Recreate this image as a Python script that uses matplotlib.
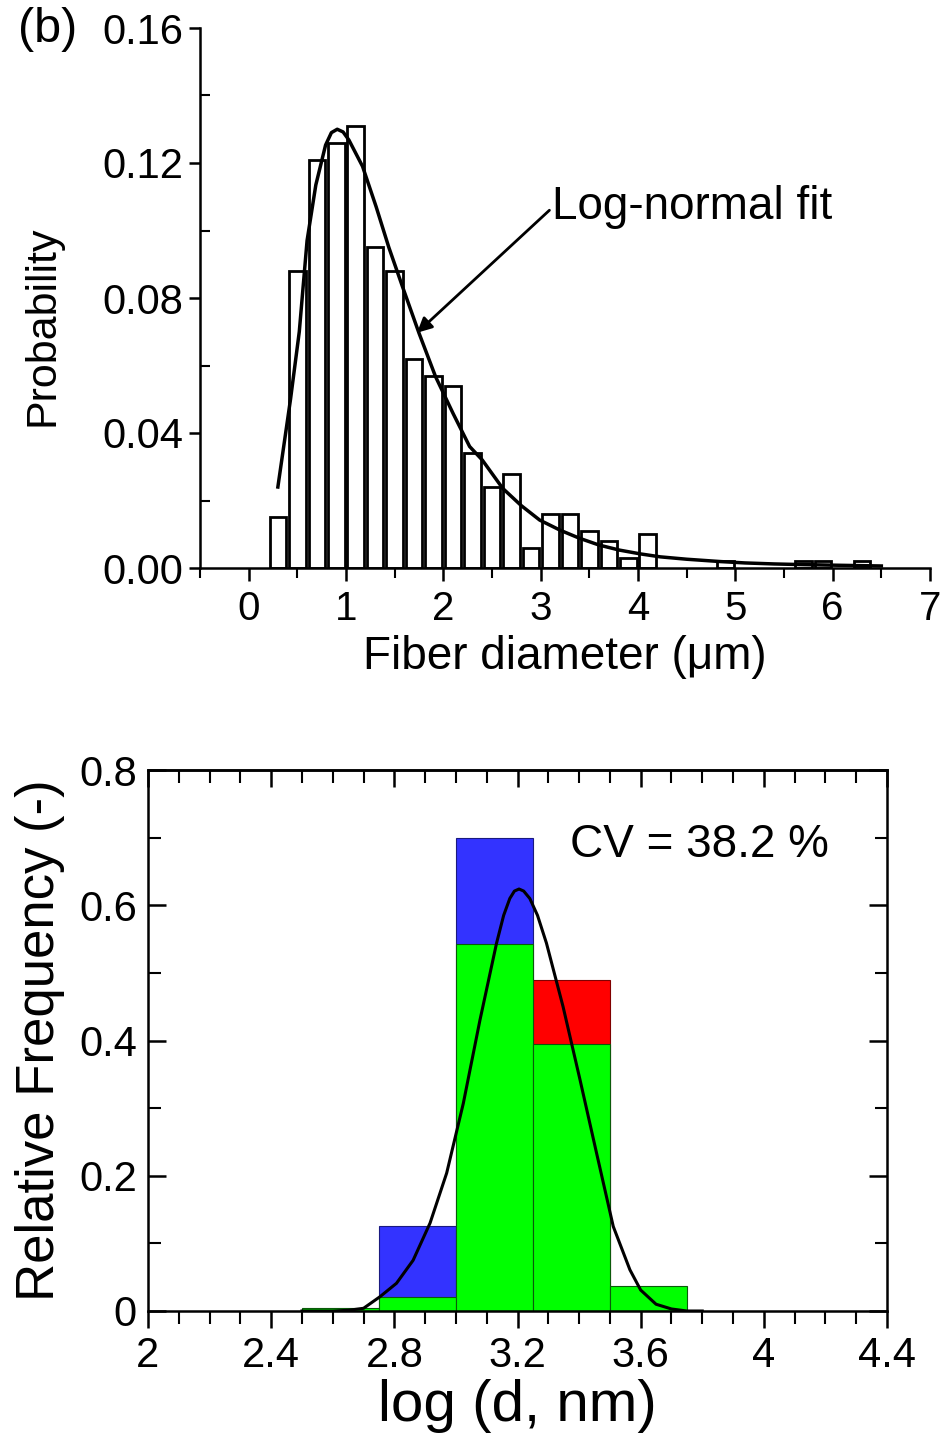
import numpy as np
import matplotlib.pyplot as plt
from matplotlib.ticker import MultipleLocator

plt.rcParams['font.family'] = ['Liberation Sans', 'DejaVu Sans']

# ---- (b) fibre diameter histogram ----
diam_centers = [0.3, 0.5, 0.7, 0.9, 1.1, 1.3, 1.5, 1.7, 1.9, 2.1, 2.3, 2.5, 2.7, 2.9,
                3.1, 3.3, 3.5, 3.7, 3.9, 4.1, 4.9, 5.7, 5.9, 6.3]
diam_prob = [0.015, 0.088, 0.121, 0.126, 0.131, 0.095, 0.088, 0.062, 0.057, 0.054,
             0.034, 0.024, 0.028, 0.006, 0.016, 0.016, 0.011, 0.008, 0.003, 0.010,
             0.002, 0.002, 0.002, 0.002]

# log-normal fit curve
fit_x = [0.30, 0.43, 0.52, 0.60, 0.69, 0.79, 0.85, 0.91, 0.97, 1.03, 1.17, 1.31,
         1.44, 1.58, 1.75, 1.92, 2.10, 2.27, 2.40, 2.61, 2.80, 2.99, 3.20, 3.40,
         3.60, 3.81, 4.02, 4.23, 4.50, 4.85, 5.10, 5.40, 5.70, 6.08, 6.50]
fit_y = [0.024, 0.050, 0.070, 0.097, 0.1135, 0.1253, 0.1290, 0.130, 0.1292, 0.1268,
         0.119, 0.107, 0.095, 0.0834, 0.0696, 0.0567, 0.0458, 0.036, 0.032, 0.0236,
         0.0185, 0.0142, 0.0112, 0.0088, 0.0068, 0.0053, 0.0042, 0.0033, 0.0026,
         0.0019, 0.0015, 0.0012, 0.0010, 0.0008, 0.0006]

# ---- log(d) relative frequency histogram ----
bin_left = [2.5, 2.75, 3.0, 3.25, 3.5]
freq_blue = [0.0, 0.125, 0.699, 0.0, 0.0]
freq_red = [0.0, 0.0, 0.0, 0.490, 0.0]
freq_green = [0.005, 0.021, 0.543, 0.395, 0.037]

gauss_x = [2.50, 2.60, 2.65, 2.70, 2.753, 2.807, 2.861, 2.916, 2.970, 3.024, 3.078,
           3.132, 3.155, 3.175, 3.19, 3.205, 3.22, 3.24, 3.265, 3.294, 3.348, 3.403,
           3.457, 3.511, 3.565, 3.60, 3.65, 3.70, 3.75, 3.80]
gauss_y = [0.0, 0.0, 0.001, 0.004, 0.021, 0.041, 0.075, 0.130, 0.204, 0.307, 0.430,
           0.544, 0.585, 0.610, 0.621, 0.624, 0.621, 0.610, 0.585, 0.544, 0.450,
           0.342, 0.233, 0.125, 0.061, 0.031, 0.010, 0.003, 0.0, 0.0]

fig = plt.figure(figsize=(9.46, 14.39), dpi=100)

# top panel
ax1 = fig.add_axes([200/946, 1-568/1439, 730/946, 540/1439])
ax1.bar(diam_centers, diam_prob, width=0.17, color='white', edgecolor='black', linewidth=2)
ax1.plot(fit_x, fit_y, color='black', linewidth=2.5)
ax1.annotate('', xy=(1.73, 0.0697), xytext=(3.09, 0.106),
             arrowprops=dict(arrowstyle='-|>', color='black', lw=2, mutation_scale=22,
                             shrinkA=0, shrinkB=0))
ax1.text(3.12, 0.107, 'Log-normal fit', fontsize=33, va='center', ha='left')
ax1.set_xlim(-0.5, 7)
ax1.set_ylim(0, 0.16)
ax1.spines['top'].set_visible(False)
ax1.spines['right'].set_visible(False)
for s in ['left', 'bottom']:
    ax1.spines[s].set_linewidth(1.8)
ax1.xaxis.set_major_locator(MultipleLocator(1))
ax1.xaxis.set_minor_locator(MultipleLocator(0.5))
ax1.yaxis.set_minor_locator(MultipleLocator(0.02))
ax1.set_yticks([0, 0.04, 0.08, 0.12, 0.16])
ax1.set_yticklabels(['0.00', '0.04', '0.08', '0.12', '0.16'])
ax1.tick_params(axis='x', which='major', direction='out', length=9, width=1.8, labelsize=29, pad=7)
ax1.tick_params(axis='x', which='minor', direction='out', length=7, width=1.5)
ax1.tick_params(axis='y', which='major', direction='out', length=8, width=1.8, labelsize=30, pad=4)
ax1.tick_params(axis='y', which='minor', direction='in', length=7, width=1.5)
ax1.set_xlabel('Fiber diameter (\u03bcm)', fontsize=33, labelpad=5)
ax1.set_ylabel('Probability', fontsize=31)
ax1.yaxis.set_label_coords(-0.189, 0.448)
fig.text(18/946, 1-30/1439, '(b)', fontsize=35, va='center', ha='left')

# bottom panel
ax2 = fig.add_axes([148/946, 1-1311/1439, 739/946, 541/1439])
ax2.bar(bin_left, freq_blue, width=0.25, align='edge', color='#3333ff', edgecolor='#1a1a80', linewidth=0.8)
ax2.bar(bin_left, freq_red, width=0.25, align='edge', color='#ff0000', edgecolor='#800000', linewidth=0.8)
ax2.bar(bin_left, freq_green, width=0.25, align='edge', color='#00ff00', edgecolor='#0a5a0a', linewidth=0.8)
ax2.plot(gauss_x, gauss_y, color='black', linewidth=2.2)
ax2.text(3.37, 0.689, 'CV = 38.2 %', fontsize=33, va='center', ha='left')
ax2.set_xlim(2, 4.4)
ax2.set_ylim(0, 0.8)
for s in ax2.spines.values():
    s.set_linewidth(1.8)
ax2.xaxis.set_minor_locator(MultipleLocator(0.1))
ax2.yaxis.set_minor_locator(MultipleLocator(0.1))
ax2.set_xticks([2, 2.4, 2.8, 3.2, 3.6, 4, 4.4])
ax2.set_xticklabels(['2', '2.4', '2.8', '3.2', '3.6', '4', '4.4'])
ax2.set_yticks([0, 0.2, 0.4, 0.6, 0.8])
ax2.set_yticklabels(['0', '0.2', '0.4', '0.6', '0.8'])
ax2.tick_params(axis='x', which='major', direction='out', length=12, width=1.8, labelsize=30, pad=6)
ax2.tick_params(axis='x', which='minor', direction='out', length=9, width=1.5)
ax2.tick_params(axis='y', which='major', direction='in', length=13, width=1.8, labelsize=30,
                right=True, pad=8)
ax2.tick_params(axis='y', which='minor', direction='in', length=9, width=1.5, right=True)
top = ax2.secondary_xaxis('top')
top.xaxis.set_major_locator(MultipleLocator(0.4))
top.xaxis.set_minor_locator(MultipleLocator(0.1))
top.tick_params(axis='x', which='major', direction='in', length=12, width=1.8, labeltop=False)
top.tick_params(axis='x', which='minor', direction='in', length=9, width=1.5)
top.spines['top'].set_linewidth(1.8)
ax2.set_xlabel('log (d, nm)', fontsize=42, labelpad=2)
ax2.set_ylabel('Relative Frequency (-)', fontsize=38, labelpad=10)

fig.savefig('out.png', dpi=100)
